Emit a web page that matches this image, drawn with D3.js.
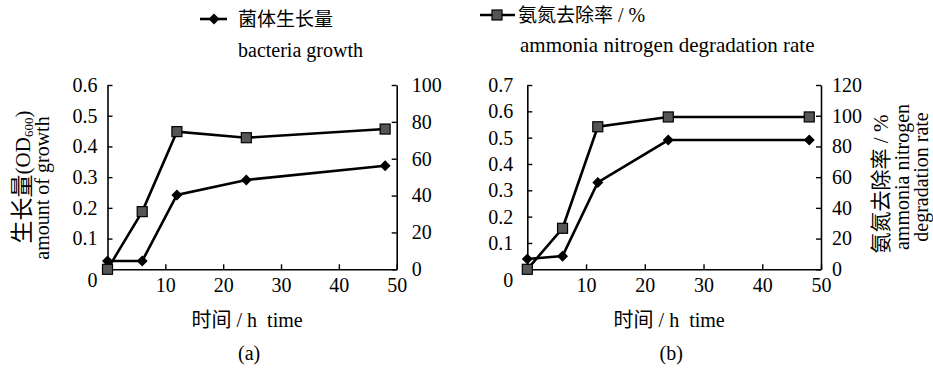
<!DOCTYPE html>
<html>
<head>
<meta charset="utf-8">
<script src="https://cdn.jsdelivr.net/npm/d3@7"></script>
<style>
  html, body { margin: 0; padding: 0; background: #fff; }
  svg { display: block; }
</style>
</head>
<body>
<svg id="chart" width="933" height="368"></svg>
<script>
// Sampling times (h)
const hours = [0, 6, 12, 24, 48];
// Panel (a): bacterial growth (OD600) and ammonia nitrogen removal (%)
const growthA = [0.027, 0.027, 0.242, 0.291, 0.337];
const removalA = [0, 31.3, 74.7, 71.4, 76.1];
// Panel (b)
const growthB = [0.039, 0.050, 0.330, 0.491, 0.491];
const removalB = [0, 26.7, 92.8, 99.2, 99.2];

// Tick values
const xTicks = [10, 20, 30, 40, 50];
const leftTicksA = [0.1, 0.2, 0.3, 0.4, 0.5, 0.6];
const rightTicksA = [0, 20, 40, 60, 80, 100];
const leftTicksB = [0.1, 0.2, 0.3, 0.4, 0.5, 0.6, 0.7];
const rightTicksB = [0, 20, 40, 60, 80, 100, 120];

const LATIN = "'Liberation Serif', 'Times New Roman', serif";
const CJK = "'Liberation Serif', 'Noto Sans CJK SC', serif";

const svg = d3.select("#chart");

const diamondPath = "M0,-5.5L5.5,0L0,5.5L-5.5,0Z";

function styleText(a) {
  a.selectAll("text").attr("font-size", 20).attr("font-family", LATIN).attr("fill", "#000");
}

function drawPanel(cfg) {
  const x = d3.scaleLinear().domain([0, 50]).range([cfg.x0, cfg.x1]);
  const yL = d3.scaleLinear().domain([0, cfg.leftMax]).range([cfg.yBot, cfg.yTop]);
  const yR = d3.scaleLinear().domain([0, cfg.rightMax]).range([cfg.yBot, cfg.yTop]);

  const g = svg.append("g");

  // x axis
  g.append("g")
    .attr("transform", `translate(0,${cfg.yBot})`)
    .call(d3.axisBottom(x).tickValues(xTicks).tickFormat(d3.format("d"))
      .tickSizeInner(-5).tickSizeOuter(0).tickPadding(9))
    .call(styleText);

  // left axis
  g.append("g")
    .attr("transform", `translate(${cfg.x0},0)`)
    .call(d3.axisLeft(yL).tickValues(cfg.leftTicks).tickFormat(d3.format(".1f"))
      .tickSizeInner(-5).tickSizeOuter(0).tickPadding(cfg.leftPad))
    .call(styleText);

  // right axis
  g.append("g")
    .attr("transform", `translate(${cfg.x1},0)`)
    .call(d3.axisRight(yR).tickValues(cfg.rightTicks).tickFormat(d3.format("d"))
      .tickSizeInner(-5).tickSizeOuter(0).tickPadding(cfg.rightPad))
    .call(styleText);

  g.selectAll(".domain").attr("stroke", "#000").attr("stroke-width", 1.6);
  g.selectAll(".tick line").attr("stroke", "#000").attr("stroke-width", 1.4);

  // shared origin label
  g.append("text")
    .attr("x", x(0) - cfg.zeroDx)
    .attr("y", cfg.yBot + 18)
    .attr("text-anchor", "middle")
    .attr("font-size", 20).attr("font-family", LATIN)
    .text("0");

  // removal series (right axis, squares)
  const lineR = d3.line().x((d, i) => x(hours[i])).y(d => yR(d));
  g.append("path").datum(cfg.removal)
    .attr("d", lineR).attr("fill", "none").attr("stroke", "#000").attr("stroke-width", 2.6);

  // growth series (left axis, diamonds)
  const lineL = d3.line().x((d, i) => x(hours[i])).y(d => yL(d));
  g.append("path").datum(cfg.growth)
    .attr("d", lineL).attr("fill", "none").attr("stroke", "#000").attr("stroke-width", 2.6);

  g.selectAll(".dia").data(cfg.growth).join("path")
    .attr("transform", (d, i) => `translate(${x(hours[i])},${yL(d)})`)
    .attr("d", diamondPath).attr("fill", "#000");

  g.selectAll(".sq").data(cfg.removal).join("rect")
    .attr("x", (d, i) => x(hours[i]) - 5)
    .attr("y", d => yR(d) - 5)
    .attr("width", 10).attr("height", 10)
    .attr("fill", "#555").attr("stroke", "#000").attr("stroke-width", 1.2);

  // x axis title and panel tag
  const cx = (cfg.x0 + cfg.x1) / 2 - 5;
  const xt = g.append("text").attr("x", cx).attr("y", 327)
    .attr("text-anchor", "middle").attr("font-size", 20).attr("font-family", CJK);
  xt.append("tspan").text("时间");
  xt.append("tspan").attr("font-family", LATIN).text(" / h\u00a0 time");

  g.append("text").attr("x", cx + 2).attr("y", 360)
    .attr("text-anchor", "middle").attr("font-size", 20).attr("font-family", LATIN)
    .text(cfg.tag);
}

drawPanel({
  x0: 107.5, x1: 396.7, yTop: 85, yBot: 269.3,
  leftMax: 0.6, rightMax: 100,
  leftTicks: leftTicksA, rightTicks: rightTicksA,
  leftPad: 10, rightPad: 15, zeroDx: 15,
  growth: growthA, removal: removalA, tag: "(a)"
});

drawPanel({
  x0: 527.3, x1: 821, yTop: 85, yBot: 269.3,
  leftMax: 0.7, rightMax: 120,
  leftPad: 14, rightPad: 11, zeroDx: 19,
  leftTicks: leftTicksB, rightTicks: rightTicksB,
  growth: growthB, removal: removalB, tag: "(b)"
});

// left y-axis title of panel (a)
const ta = svg.append("g").attr("transform", "translate(30,177) rotate(-90)");
const t1 = ta.append("text").attr("text-anchor", "middle").attr("font-size", 23).attr("font-family", CJK);
t1.append("tspan").text("生长量");
t1.append("tspan").attr("font-family", LATIN).attr("font-size", 21).text("(OD");
t1.append("tspan").attr("font-family", LATIN).attr("font-size", 13).attr("dy", 3).text("600");
t1.append("tspan").attr("font-family", LATIN).attr("font-size", 21).attr("dy", -3).text(")");
svg.append("text").attr("transform", "translate(49,188) rotate(-90)")
  .attr("text-anchor", "middle").attr("font-size", 20).attr("font-family", LATIN)
  .text("amount of growth");

// right y-axis title of panel (b)
svg.append("text").attr("transform", "translate(888,184) rotate(-90)")
  .attr("text-anchor", "middle").attr("font-size", 21).attr("font-family", CJK)
  .text("氨氮去除率 / %");
svg.append("text").attr("transform", "translate(909,177) rotate(-90)")
  .attr("text-anchor", "middle").attr("font-size", 20).attr("font-family", LATIN)
  .text("ammonia nitrogen");
svg.append("text").attr("transform", "translate(928,177) rotate(-90)")
  .attr("text-anchor", "middle").attr("font-size", 20).attr("font-family", LATIN)
  .text("degradation rate");

// legend
const leg = svg.append("g");
leg.append("line").attr("x1", 200).attr("x2", 227).attr("y1", 19).attr("y2", 19)
  .attr("stroke", "#000").attr("stroke-width", 2.6);
leg.append("path").attr("transform", "translate(214,19)").attr("d", diamondPath).attr("fill", "#000");
leg.append("text").attr("x", 238).attr("y", 26).attr("font-size", 19).attr("font-family", CJK).text("菌体生长量");
leg.append("text").attr("x", 238).attr("y", 57).attr("font-size", 20).attr("font-family", LATIN).text("bacteria growth");

leg.append("line").attr("x1", 480).attr("x2", 515).attr("y1", 15).attr("y2", 15)
  .attr("stroke", "#000").attr("stroke-width", 2.6);
leg.append("rect").attr("x", 492).attr("y", 10).attr("width", 10).attr("height", 10)
  .attr("fill", "#555").attr("stroke", "#000").attr("stroke-width", 1.2);
const l2 = leg.append("text").attr("x", 518).attr("y", 22).attr("font-size", 19).attr("font-family", CJK);
l2.append("tspan").text("氨氮去除率");
l2.append("tspan").attr("font-family", LATIN).attr("font-size", 20).text(" / %");
leg.append("text").attr("x", 520).attr("y", 52).attr("font-size", 21).attr("font-family", LATIN)
  .text("ammonia nitrogen degradation rate");
</script>
</body>
</html>
